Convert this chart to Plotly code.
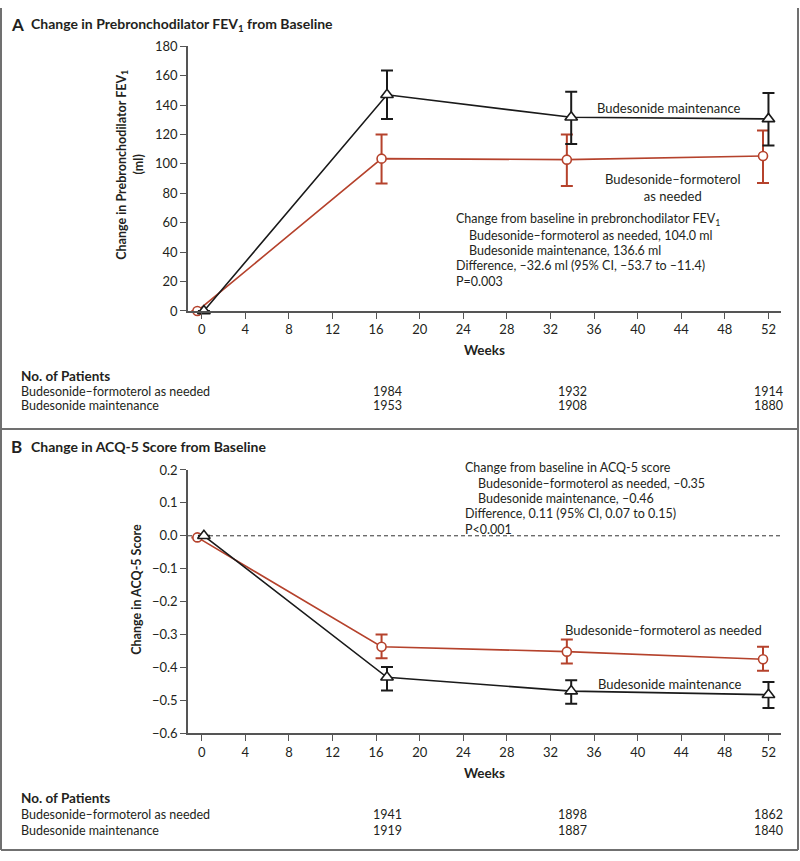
import plotly.graph_objects as go

# ---------------- data ----------------
weeks_maint = [0.2, 17, 33.9, 52]
weeks_asneeded = [-0.4, 16.5, 33.5, 51.5]

# Panel A: change in prebronchodilator FEV1 (ml)
fev_maint = [0, 147.0, 131.7, 130.6]
fev_maint_lo = [None, 130.5, 113.5, 112.5]
fev_maint_hi = [None, 163.5, 149.0, 148.3]
fev_asneeded = [0, 103.6, 102.9, 105.4]
fev_asneeded_lo = [None, 86.6, 85.0, 87.0]
fev_asneeded_hi = [None, 120.0, 120.0, 122.8]

# Panel B: change in ACQ-5 score
acq_maint = [0.0, -0.430, -0.472, -0.483]
acq_maint_lo = [None, -0.470, -0.510, -0.523]
acq_maint_hi = [None, -0.399, -0.439, -0.444]
acq_asneeded = [-0.005, -0.337, -0.352, -0.375]
acq_asneeded_lo = [None, -0.372, -0.388, -0.410]
acq_asneeded_hi = [None, -0.300, -0.315, -0.337]

x_ticks = list(range(0, 53, 4))
fev_ticks = list(range(0, 181, 20))
acq_ticks = [0.2, 0.1, 0.0, -0.1, -0.2, -0.3, -0.4, -0.5, -0.6]

patient_weeks = [17, 34, 52]
pts_A_asneeded = ["1984", "1932", "1914"]
pts_A_maint = ["1953", "1908", "1880"]
pts_B_asneeded = ["1941", "1898", "1862"]
pts_B_maint = ["1919", "1887", "1840"]

label_asneeded = "Budesonide–formoterol as needed"
label_asneeded_2line = "Budesonide–formoterol<br>as needed"
label_maint = "Budesonide maintenance"

annot_A = [
    ("Change from baseline in prebronchodilator FEV<sub>1</sub>", 0),
    ("Budesonide–formoterol as needed, 104.0 ml", 1),
    ("Budesonide maintenance, 136.6 ml", 1),
    ("Difference, –32.6 ml (95% CI, –53.7 to –11.4)", 0),
    ("P=0.003", 0),
]
annot_B = [
    ("Change from baseline in ACQ-5 score", 0),
    ("Budesonide–formoterol as needed, –0.35", 1),
    ("Budesonide maintenance, –0.46", 1),
    ("Difference, 0.11 (95% CI, 0.07 to 0.15)", 0),
    ("P<0.001", 0),
]

# ---------------- style ----------------
W, H = 800, 861
RED = "#B5422C"
BLACK = "#1a1a1a"
AXC = "#555555"
TXT = "#231f20"
FONT = "Lato"
BORDER = "#707070"


def px(x):
    return x / W


def py(y):
    return 1 - y / H


def err(vals, lo, hi):
    plus = [None if h is None else h - v for v, h in zip(vals, hi)]
    minus = [None if l is None else v - l for v, l in zip(vals, lo)]
    return plus, minus


fig = go.Figure()


def add_series(xs, ys, lo, hi, color, symbol, size, xa, ya, capw):
    plus, minus = err(ys, lo, hi)
    fig.add_trace(go.Scatter(
        x=xs, y=ys, mode="lines+markers",
        line=dict(color=color, width=1.6),
        marker=dict(symbol=symbol, size=size, color="white",
                    line=dict(color=color, width=1.6)),
        error_y=dict(type="data", array=plus, arrayminus=minus, visible=True,
                     color=color, thickness=2, width=capw),
        xaxis=xa, yaxis=ya, cliponaxis=False, showlegend=False,
        hoverinfo="skip",
    ))


# Panel A
add_series(weeks_asneeded, fev_asneeded, fev_asneeded_lo, fev_asneeded_hi, RED, "circle", 9, "x", "y", 6)
add_series(weeks_maint, fev_maint, fev_maint_lo, fev_maint_hi, BLACK, "triangle-up", 11, "x", "y", 6)
# Panel B
add_series(weeks_asneeded, acq_asneeded, acq_asneeded_lo, acq_asneeded_hi, RED, "circle", 9, "x2", "y2", 6)
add_series(weeks_maint, acq_maint, acq_maint_lo, acq_maint_hi, BLACK, "triangle-up", 11, "x2", "y2", 6)

x_dom = [px(188), px(781)]
x_range = [-1.26, 53.15]

axis_common = dict(showline=True, linecolor=AXC, linewidth=1.5, ticks="outside",
                   ticklen=6, tickwidth=1.2, tickcolor=AXC, showgrid=False,
                   zeroline=False, tickfont=dict(family=FONT, size=13, color=TXT))

fig.update_layout(
    width=W, height=H, margin=dict(l=0, r=0, t=0, b=0),
    paper_bgcolor="white", plot_bgcolor="white",
    font=dict(family=FONT, size=13, color=TXT),
    xaxis=dict(domain=x_dom, range=x_range, tickvals=x_ticks, anchor="y", **axis_common),
    yaxis=dict(domain=[py(308.7), py(39)], range=[0, 180], tickvals=fev_ticks,
               anchor="x", **axis_common),
    xaxis2=dict(domain=x_dom, range=x_range, tickvals=x_ticks, anchor="y2", **axis_common),
    yaxis2=dict(domain=[py(739), py(470.7)], range=[-0.6, 0.2], tickvals=acq_ticks,
                tickformat=".1f", anchor="x2", **axis_common),
)

shapes = []
# dashed zero line panel B
shapes.append(dict(type="line", xref="x2 domain", yref="y2", x0=0, x1=1, y0=0, y1=0,
                   line=dict(color="#333333", width=1, dash="4px,3px"), layer="below"))
# frame
for (x0, y0, x1, y1) in [(1, 0, 1, 858), (798, 0, 798, 858), (1, 858, 798, 858), (1, 429, 798, 429)]:
    shapes.append(dict(type="line", xref="paper", yref="paper", x0=px(x0), x1=px(x1),
                       y0=py(y0), y1=py(y1), line=dict(color=BORDER, width=2)))
fig.update_layout(shapes=shapes)

ann = []


def text(x, y, s, size=12.5, bold=False, anchor="left", xref="paper", angle=0):
    ann.append(dict(x=x if xref != "paper" else px(x), y=py(y), xref=xref, yref="paper",
                    text=f"<b>{s}</b>" if bold else s, showarrow=False,
                    xanchor=anchor, yanchor="middle", textangle=angle, borderpad=0,
                    align="center" if anchor == "center" else "left",
                    font=dict(family=FONT, size=size, color=TXT)))


# Panel titles
text(10, 17, "A", size=17, bold=True)
text(30, 17, "Change in Prebronchodilator FEV<sub>1</sub> from Baseline", size=14, bold=True)
text(10, 447, "B", size=17, bold=True)
text(30, 447, "Change in ACQ-5 Score from Baseline", size=14, bold=True)

# Axis titles
text(121.7, 160, "Change in Prebronchodilator FEV<sub>1</sub>", size=12.5, bold=True, anchor="center", angle=-90)
text(138.5, 160, "(ml)", size=12.5, bold=True, anchor="center", angle=-90)
text(136.7, 592, "Change in ACQ-5 Score", size=12.5, bold=True, anchor="center", angle=-90)
text(484.5, 348, "Weeks", size=13.5, bold=True, anchor="center")
text(484.5, 779, "Weeks", size=13.5, bold=True, anchor="center")

# Series labels
text(668, 102, label_maint, size=13, anchor="center")
text(673, 182.5, label_asneeded_2line, size=13, anchor="center")
text(663, 634, label_asneeded, size=13, anchor="center")
text(669.5, 689, label_maint, size=13, anchor="center")

# Stat annotations
for i, (s, ind) in enumerate(annot_A):
    text(455 + 13 * ind, 216 + 15.6 * i, s, size=12.5)
for i, (s, ind) in enumerate(annot_B):
    text(464 + 13 * ind, 468.5 + 15.6 * i, s, size=12.5)

# Patients tables
text(20, 375, "No. of Patients", size=13.5, bold=True)
text(20, 390.5, label_asneeded)
text(20, 405.5, label_maint)
for w, a, b in zip(patient_weeks, pts_A_asneeded, pts_A_maint):
    text(w, 390.5, a, anchor="center", xref="x")
    text(w, 405.5, b, anchor="center", xref="x")

text(20, 805, "No. of Patients", size=13.5, bold=True)
text(20, 822, label_asneeded)
text(20, 838, label_maint)
for w, a, b in zip(patient_weeks, pts_B_asneeded, pts_B_maint):
    text(w, 822, a, anchor="center", xref="x2")
    text(w, 838, b, anchor="center", xref="x2")

fig.update_layout(annotations=ann)
fig.write_html(
    "out.html",
    config={"displayModeBar": False},
    post_script="document.documentElement.style.margin='0';document.body.style.margin='0';"
                "document.documentElement.style.overflow='hidden';document.body.style.overflow='hidden';",
)
